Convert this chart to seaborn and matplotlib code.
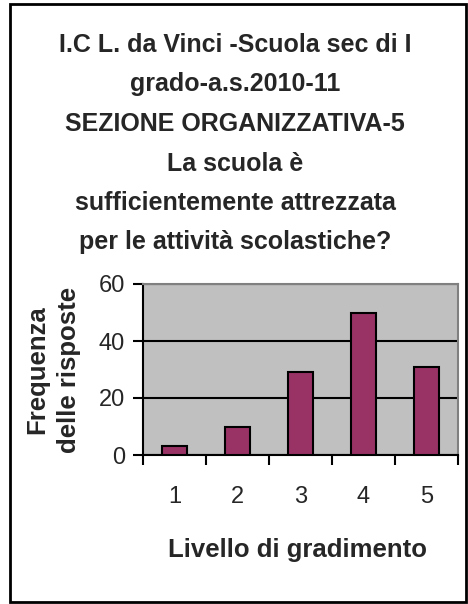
import matplotlib
matplotlib.use("Agg")
import matplotlib.pyplot as plt
import numpy as np
import pandas as pd
import seaborn as sns
from matplotlib.patches import Rectangle

# Chart data
livelli = ["1", "2", "3", "4", "5"]
frequenze = [3, 10, 29, 50, 31]
y_ticks = [0, 20, 40, 60]

title_lines = [
    "I.C L. da Vinci -Scuola sec di I",
    "grado-a.s.2010-11",
    "SEZIONE ORGANIZZATIVA-5",
    "La scuola è",
    "sufficientemente attrezzata",
    "per le attività scolastiche?",
]

sns.set_style("white")
plt.rcParams["font.family"] = ["Liberation Sans", "DejaVu Sans"]

df = pd.DataFrame({"livello": livelli, "frequenza": frequenze})

fig = plt.figure(figsize=(4.68, 6.04), dpi=100)
ax = fig.add_axes([143 / 468, 1 - 455 / 604, 315 / 468, 171 / 604])

ax.set_facecolor("#C0C0C0")
sns.barplot(data=df, x="livello", y="frequenza", color="#993366",
            width=0.41, edgecolor="black", linewidth=1.5, saturation=1,
            ax=ax, zorder=3)

ax.set_xlim(-0.5, 4.5)
ax.set_ylim(0, 60)
ax.set_yticks(y_ticks)
ax.yaxis.grid(True, color="black", linewidth=1.5, zorder=1)
ax.set_axisbelow(True)

# tick marks between the categories, labels at the centres
ax.set_xticks(np.arange(len(livelli)))
ax.set_xticklabels(livelli)
ax.set_xticks(np.arange(len(livelli) + 1) - 0.5, minor=True)
ax.tick_params(axis="x", which="major", length=0, pad=22, labelsize=17)
ax.tick_params(axis="x", which="minor", length=7, width=1.5, direction="out",
               color="black", bottom=True)
ax.tick_params(axis="y", length=7, width=1.5, direction="out", color="black",
               left=True, labelsize=17, pad=6)

for side in ["left", "bottom"]:
    ax.spines[side].set_color("black")
    ax.spines[side].set_linewidth(1.5)
for side in ["top", "right"]:
    ax.spines[side].set_visible(True)
    ax.spines[side].set_color("#808080")
    ax.spines[side].set_linewidth(1.5)

ax.set_xlabel("Livello di gradimento", fontsize=18.5, fontweight="bold")
ax.xaxis.label.set_va("center")
ax.xaxis.set_label_coords(154 / 315, -95 / 171)

ax.set_ylabel("Frequenza\ndelle risposte", fontsize=18.5, fontweight="bold",
              linespacing=1.4)
ax.yaxis.label.set_va("center")
ax.yaxis.set_label_coords(-90 / 315, 85 / 171)

for i, line in enumerate(title_lines):
    fig.text(235 / 468, 1 - (45 + 39.5 * i) / 604, line, ha="center",
             va="center", fontsize=18, fontweight="bold")

# outer frame of the chart
fig.patches.append(Rectangle((10 / 468, 2 / 604), 456 / 468, 598 / 604,
                             transform=fig.transFigure, fill=False,
                             edgecolor="black", linewidth=2))

fig.savefig("out.png", dpi=100)
